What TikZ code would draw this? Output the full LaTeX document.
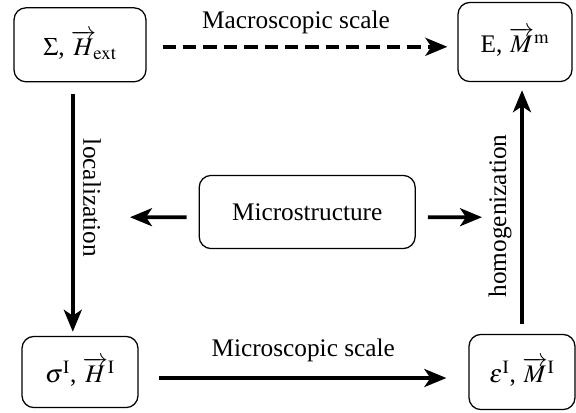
\documentclass[tikz,border=0pt]{standalone}
\usepackage{amsmath}
\usepackage{mathptmx}
\usepackage{fontspec}
\setmainfont{Liberation Serif}
\usetikzlibrary{arrows.meta}

\begin{document}
\begin{tikzpicture}[every node/.style={font=\fontsize{18}{21}\selectfont},
  state/.style={draw,rounded corners=0.3cm,line width=0.9pt},
  arr/.style={line width=2.6pt,-{Stealth[length=0.55cm,width=0.45cm,inset=0.15cm]}}]
\useasboundingbox (0,0) rectangle (14.4,-10.3);
\node[state,minimum width=3.3cm,minimum height=1.85cm] (mac) at (2.0,-1.12) {$\Sigma$, $\overrightarrow{H}\!_{\mathrm{ext}}$};
\node[state,minimum width=2.85cm,minimum height=1.98cm] (macm) at (12.875,-1.05) {E, $\overrightarrow{M}^{\mathrm{m}}$};
\node[state,minimum width=2.9cm,minimum height=1.78cm] (mic) at (2.0,-9.3) {$\sigma^{\mathrm{I}}$, $\overrightarrow{H}^{\mathrm{I}}$};
\node[state,minimum width=2.65cm,minimum height=1.88cm] (micm) at (13.05,-9.3) {$\varepsilon^{\mathrm{I}}$, $\overrightarrow{M}^{\mathrm{I}}$};
\node[state,minimum width=5.4cm,minimum height=1.83cm] (ms) at (7.68,-5.3) {Microstructure};
\coordinate (lft) at (3.25,-5.43);
\coordinate (rgt) at (12.05,-5.43);
% scale arrows
\draw[arr,dash pattern=on 9.5pt off 5pt,shorten <=0.4cm,shorten >=0.25cm] ([yshift=-0.05cm]mac.east) -- ([yshift=-0.05cm]mac.east -| macm.west);
\node (macl) at (7.4,-0.55) {Macroscopic scale};
\draw[arr,shorten <=0.5cm,shorten >=0.55cm] ([yshift=-0.15cm]mic.east) -- ([yshift=-0.15cm]mic.east -| micm.west);
\node (micl) at (7.58,-8.75) {Microscopic scale};
% localization / homogenization
\draw[arr,shorten <=0.3cm,shorten >=0.1cm] ([xshift=-0.18cm]mac.south) -- ([xshift=-0.18cm]mac.south |- mic.north);
\node[rotate=-90] (loc) at (2.3,-4.95) {localization};
\draw[arr,shorten <=0.25cm,shorten >=0.2cm] (micm.north) -- (micm.north |- macm.south);
\node[rotate=90] (hom) at (12.5,-5.4) {homogenization};
% microstructure
\draw[arr,shorten <=0.3cm] ([yshift=-0.13cm]ms.west) -- (lft);
\draw[arr,shorten <=0.3cm] ([yshift=-0.13cm]ms.east) -- (rgt);
\end{tikzpicture}
\end{document}
